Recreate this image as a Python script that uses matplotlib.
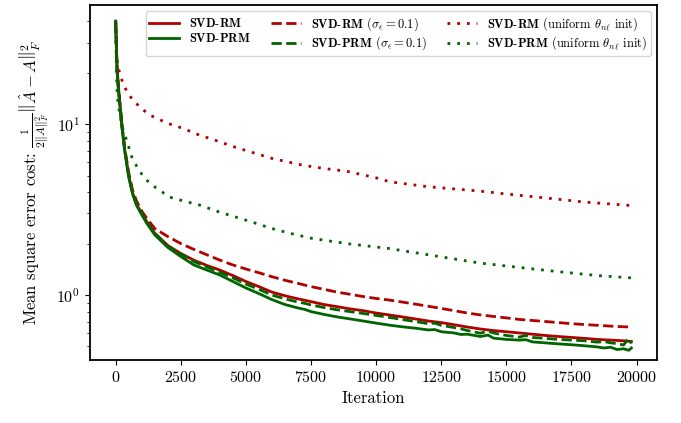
import matplotlib
matplotlib.use("Agg")
import matplotlib.pyplot as plt
import numpy as np

plt.rcParams['font.family'] = ['cmr10', 'DejaVu Serif']
plt.rcParams['mathtext.fontset'] = 'cm'
plt.rcParams['axes.formatter.use_mathtext'] = True

# ---- data ----
it_rm = [0, 50, 100, 150, 250, 350, 500, 650, 800, 1000, 1200, 1500, 2000, 2500, 3000, 3500, 4000, 4500,
         5000, 5500, 6000, 6500, 7000, 7500, 8000, 8500, 9000, 9500, 10000, 10500, 11000, 11500,
         12000, 12500, 13000, 13500, 14000, 14500, 15000, 15500, 16000, 16500, 17000, 17500,
         18000, 18500, 19000, 19500, 19800]
rm_solid = [40, 22, 17, 13.8, 9.5, 7.05, 5.0, 3.95, 3.4, 3.0, 2.68, 2.3, 1.95, 1.75, 1.6, 1.49, 1.40, 1.30,
            1.20, 1.12, 1.04, 0.99, 0.95, 0.915, 0.88, 0.855, 0.83, 0.81, 0.785, 0.765, 0.745, 0.725,
            0.705, 0.69, 0.67, 0.65, 0.633, 0.62, 0.61, 0.60, 0.59, 0.58, 0.572, 0.565,
            0.558, 0.55, 0.545, 0.54, 0.535]
rm_dashed = [40, 22, 17, 13.8, 9.6, 7.2, 5.2, 4.1, 3.55, 3.1, 2.8, 2.45, 2.2, 2.0, 1.85, 1.72, 1.60, 1.50,
             1.42, 1.35, 1.28, 1.22, 1.17, 1.12, 1.08, 1.04, 1.01, 0.98, 0.955, 0.935, 0.91, 0.885,
             0.86, 0.835, 0.81, 0.785, 0.765, 0.75, 0.735, 0.72, 0.71, 0.70, 0.69, 0.68,
             0.672, 0.665, 0.658, 0.652, 0.65]

it_prm = [0, 50, 100, 150, 250, 350, 500, 650, 800, 1000, 1200, 1500, 2000, 2500, 3000, 3500, 4000, 4500,
          5000, 5500, 6000, 6500, 7000, 7250, 7500, 8000, 8500, 9000, 9500, 10000, 10500, 11000,
          11500, 12000, 12250, 12500, 13000, 13250, 13500, 14000, 14300, 14500, 15000, 15500,
          15750, 16000, 16500, 17000, 17500, 18000, 18500, 18750, 19000, 19250, 19500, 19700, 19800]
prm_solid = [40, 21, 16, 13.5, 9.3, 6.9, 4.9, 3.9, 3.35, 2.95, 2.62, 2.25, 1.9, 1.68, 1.5, 1.4, 1.31, 1.2,
             1.1, 1.02, 0.94, 0.88, 0.84, 0.825, 0.80, 0.77, 0.745, 0.725, 0.705, 0.685, 0.667, 0.652,
             0.64, 0.625, 0.628, 0.61, 0.60, 0.588, 0.59, 0.572, 0.583, 0.56, 0.55, 0.545,
             0.548, 0.532, 0.525, 0.518, 0.512, 0.505, 0.497, 0.49, 0.495, 0.48, 0.485, 0.475, 0.49]
prm_dashed = [40, 21, 16.5, 13.6, 9.4, 7.0, 5.0, 3.95, 3.4, 3.0, 2.67, 2.3, 1.93, 1.74, 1.57, 1.46, 1.36, 1.26,
              1.16, 1.08, 1.0, 0.95, 0.91, 0.895, 0.875, 0.845, 0.82, 0.80, 0.78, 0.76, 0.74, 0.72,
              0.70, 0.68, 0.685, 0.665, 0.645, 0.635, 0.62, 0.598, 0.615, 0.60, 0.58, 0.568,
              0.58, 0.565, 0.558, 0.55, 0.545, 0.54, 0.53, 0.535, 0.525, 0.52, 0.51, 0.56, 0.52]

it_ru = [0, 25, 50, 90, 150, 280, 450, 665, 1000, 1305, 2000, 2570, 3150, 3865, 4500, 5144, 6000,
         7180, 8000, 8870, 10000, 10520, 12000, 13970, 15000, 16500, 18000, 19800]
rm_unif = [40, 27, 24, 21.6, 20, 17.3, 15.3, 13.8, 12.3, 11.3, 10.1, 9.46, 8.7, 8.0, 7.4, 6.9, 6.3,
           5.75, 5.5, 5.3, 4.85, 4.6, 4.3, 4.06, 3.9, 3.7, 3.5, 3.34]

it_pu = [0, 30, 60, 100, 150, 250, 420, 650, 1000, 1305, 2070, 2600, 3225, 4000, 5144, 6000, 6680,
         7500, 8870, 10520, 12000, 13970, 15500, 17000, 18500, 19800]
prm_unif = [40, 20, 15, 13, 11.6, 9.6, 8.05, 6.2, 5.1, 4.5, 3.74, 3.55, 3.36, 3.05, 2.7, 2.45, 2.30,
            2.15, 2.0, 1.87, 1.72, 1.54, 1.45, 1.37, 1.3, 1.26]

red = '#b00000'
green = '#006400'

fig = plt.figure(figsize=(6.81, 4.23), dpi=100)
ax = fig.add_axes([0.132, 0.149, 0.833, 0.839])

lw = 2.0
dash = (0, (3.7, 1.6))
dot = (0, (1, 2.5))
ax.plot(it_rm, rm_solid, color=red, lw=lw, label=r'$\mathbf{SVD}$-$\mathbf{RM}$')
ax.plot(it_prm, prm_solid, color=green, lw=lw, label=r'$\mathbf{SVD}$-$\mathbf{PRM}$')
ax.plot(it_rm, rm_dashed, color=red, lw=lw, ls=dash,
        label=r'$\mathbf{SVD}$-$\mathbf{RM}$ ($\sigma_\epsilon = 0.1$)')
ax.plot(it_prm, prm_dashed, color=green, lw=lw, ls=dash,
        label=r'$\mathbf{SVD}$-$\mathbf{PRM}$ ($\sigma_\epsilon = 0.1$)')
ax.plot(it_ru, rm_unif, color=red, lw=lw, ls=dot,
        label=r'$\mathbf{SVD}$-$\mathbf{RM}$ (uniform $\theta_{n\ell}$ init)')
ax.plot(it_pu, prm_unif, color=green, lw=lw, ls=dot,
        label=r'$\mathbf{SVD}$-$\mathbf{PRM}$ (uniform $\theta_{n\ell}$ init)')

ax.set_yscale('log')
ax.set_ylim(0.417, 49.7)
ax.set_xticks([0, 2500, 5000, 7500, 10000, 12500, 15000, 17500, 20000])
ax.tick_params(labelsize=11.5)
ax.set_xlabel('Iteration', fontsize=12)

candidates = [
    r'Mean square error cost: $\frac{1}{2\|A\|_F^2}\left\|\genfrac{}{}{0}{}{\hat{A}-A}{}\right\|_F^2$',
    r'Mean square error cost: $\frac{1}{2\|A\|_F^2}\left\|\hat{A}-A\right\|_F^2$',
]
for lab in candidates:
    ax.set_ylabel(lab, fontsize=12)
    try:
        fig.canvas.draw()
        break
    except Exception:
        continue

for s in ax.spines.values():
    s.set_linewidth(1.3)

leg = ax.legend(ncol=3, loc='upper right', fontsize=9, frameon=True, fancybox=True,
                handlelength=2.4, columnspacing=1.6, borderaxespad=0.5,
                labelspacing=0.15, borderpad=0.3)

fig.savefig('out.png', dpi=100)
